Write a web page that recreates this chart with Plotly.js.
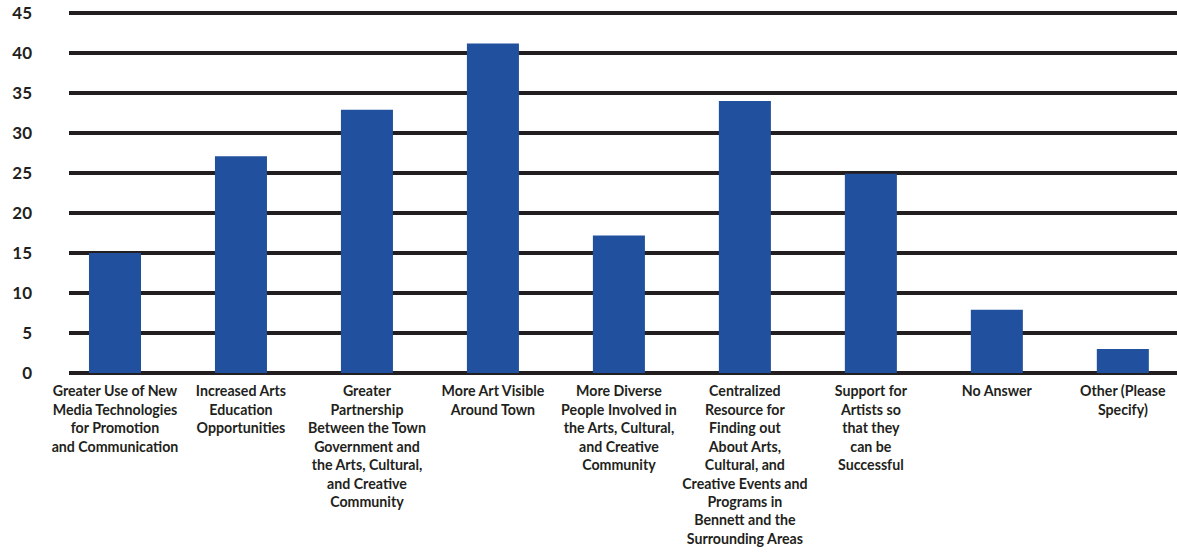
<!DOCTYPE html>
<html>
<head>
<meta charset="utf-8">
<script src="https://cdn.plot.ly/plotly-3.0.1.min.js"></script>
<style>html,body{margin:0;padding:0;background:#fff;}#chart{width:1177px;height:552px;}</style>
</head>
<body>
<div id="chart"></div>
<script>
var categories = ["Greater Use of New Media Technologies for Promotion and Communication","Increased Arts Education Opportunities","Greater Partnership Between the Town Government and the Arts, Cultural, and Creative Community","More Art Visible Around Town","More Diverse People Involved in the Arts, Cultural, and Creative Community","Centralized Resource for Finding out About Arts, Cultural, and Creative Events and Programs in Bennett and the Surrounding Areas","Support for Artists so that they can be Successful","No Answer","Other (Please Specify)"];
var values = [15, 27.1, 32.9, 41.2, 17.2, 34, 24.9, 7.9, 3];
var tickLabels = [
  "Greater Use of New<br>Media Technologies<br>for Promotion<br>and Communication",
  "Increased Arts<br>Education<br>Opportunities",
  "Greater<br>Partnership<br>Between the Town<br>Government and<br>the Arts, Cultural,<br>and Creative<br>Community",
  "More Art Visible<br>Around Town",
  "More Diverse<br>People Involved in<br>the Arts, Cultural,<br>and Creative<br>Community",
  "Centralized<br>Resource for<br>Finding out<br>About Arts,<br>Cultural, and<br>Creative Events and<br>Programs in<br>Bennett and the<br>Surrounding Areas",
  "Support for<br>Artists so<br>that they<br>can be<br>Successful",
  "No Answer",
  "Other (Please<br>Specify)"
];
var yTicks = [0,5,10,15,20,25,30,35,40,45];

var idx = categories.map(function(_, i){ return i; });

var trace = {
  type: "bar",
  x: idx,
  y: values,
  width: 0.413,
  marker: {color: "#21509e", line: {width: 0}},
  hoverinfo: "skip"
};

var layout = {
  width: 1177, height: 552,
  margin: {l: 69, r: 0, t: 11, b: 177},
  paper_bgcolor: "#fff", plot_bgcolor: "#fff",
  showlegend: false,
  font: {family: "Lato, 'Open Sans', sans-serif", color: "#231f20"},
  xaxis: {
    range: [-0.365, 8.43],
    tickmode: "array",
    tickvals: idx,
    ticktext: tickLabels,
    tickangle: 0,
    showgrid: false,
    zeroline: false,
    showline: false,
    ticks: "",
    ticklabelstandoff: 6,
    tickfont: {family: "Lato, sans-serif", size: 14.2, color: "#231f20", weight: "bold"}
  },
  yaxis: {
    range: [-0.25, 45.25],
    tickmode: "array",
    tickvals: yTicks,
    ticktext: yTicks.map(String),
    showgrid: true,
    gridcolor: "#231f20",
    gridwidth: 4,
    zeroline: true,
    zerolinecolor: "#231f20",
    zerolinewidth: 4,
    showline: false,
    ticks: "",
    ticklabelstandoff: 36,
    tickfont: {family: "Lato, sans-serif", size: 17, color: "#231f20", weight: "bold"}
  }
};

Plotly.newPlot("chart", [trace], layout, {displayModeBar: false, staticPlot: true});
</script>
</body>
</html>
